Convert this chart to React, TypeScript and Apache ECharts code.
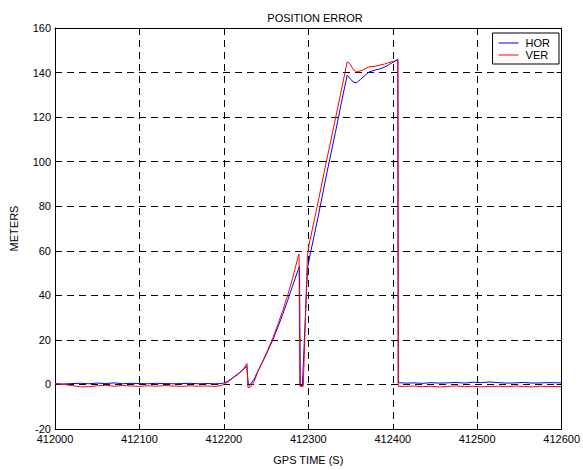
import React, { useEffect, useRef } from "react";
import * as echarts from "echarts";

const xTicks = [412000, 412100, 412200, 412300, 412400, 412500, 412600];
const yTicks = [-20, 0, 20, 40, 60, 80, 100, 120, 140, 160];

const horTime = [
  412000, 412010, 412020, 412030, 412040, 412050, 412060, 412070, 412080, 412090,
  412100, 412110, 412120, 412130, 412140, 412150, 412160, 412170, 412180, 412190, 412198,
  412205, 412212, 412218, 412224, 412227, 412229, 412231, 412236, 412240, 412246, 412252,
  412258, 412264, 412270, 412276, 412282, 412288, 412289.5, 412290.5, 412293, 412299,
  412302, 412312, 412322, 412332, 412340, 412346, 412350, 412354, 412357, 412362, 412368,
  412372, 412380, 412386, 412392, 412396, 412402, 412406, 412406.5,
  412415, 412425, 412435, 412445, 412455, 412465, 412475, 412485, 412495, 412505,
  412515, 412525, 412535, 412545, 412555, 412565, 412575, 412585, 412600,
];
const horVal = [
  0.3, 0.2, 0.4, 0.5, 0.3, 0.6, 0.4, 0.7, 0.3, 0.5,
  0.4, 0.3, 0.5, 0.4, 0.3, 0.4, 0.5, 0.3, 0.4, 0.3, 0.4,
  1.5, 3.4, 5.2, 7.0, 8.3, -0.3, -0.2, 2.5, 5.8, 10.2, 15.0,
  20.0, 25.8, 31.8, 38.2, 45.0, 51.5, 53.0, -0.5, -0.5, 52,
  58, 76, 95, 113, 128, 138.8, 137.0, 135.6, 135.4, 137.0, 139.0,
  140.3, 141.2, 141.8, 142.8, 143.7, 145.0, 146.0, 0.8,
  0.6, 0.7, 0.5, 0.8, 0.6, 0.7, 0.9, 0.6, 1.0, 0.8,
  1.1, 0.8, 0.6, 0.7, 0.9, 0.6, 0.7, 0.8, 0.7,
];

const verTime = [
  412000, 412010, 412020, 412030, 412040, 412050, 412060, 412070, 412080, 412090,
  412100, 412110, 412120, 412130, 412140, 412150, 412160, 412170, 412180, 412190, 412198,
  412205, 412210, 412216, 412222, 412227.4, 412228.5, 412232, 412236, 412240, 412246, 412252,
  412258, 412264, 412270, 412276, 412282, 412288, 412289, 412290, 412294, 412299,
  412301, 412310, 412320, 412330, 412338, 412346, 412349, 412353, 412357, 412364, 412371,
  412378, 412384, 412390, 412394, 412400, 412406, 412406.5,
  412415, 412425, 412435, 412445, 412455, 412465, 412475, 412485, 412495, 412505,
  412515, 412525, 412535, 412545, 412555, 412565, 412575, 412585, 412600,
];
const verVal = [
  0.3, 0.0, -0.5, -1.1, -1.0, -0.6, -0.4, -0.8, -0.5, -0.7,
  -0.9, -0.6, -0.8, -0.5, -0.7, -0.9, -0.6, -0.8, -0.7, -0.9, -0.4,
  1.2, 2.7, 4.3, 6.3, 9.4, -1.4, -1.0, 1.5, 5.5, 10.5, 15.5,
  20.8, 27.0, 33.5, 40.6, 48.5, 57.5, 58.5, -0.8, -0.8, 58,
  63, 79, 97.5, 115.5, 130, 144.8, 144.0, 141.5, 140.3, 141.0, 142.5,
  142.8, 143.3, 143.8, 144.3, 145.0, 145.5, -0.8,
  -0.9, -0.7, -1.0, -0.8, -1.1, -0.9, -0.7, -1.0, -0.8, -1.1,
  -0.9, -0.8, -1.0, -0.7, -0.9, -1.1, -0.8, -0.9, -1.0,
];

const seriesNames = ["HOR", "VER"];
const seriesColors = ["#0000ff", "#ff0000"];

const FONT = "Liberation Sans, Arial, Helvetica, sans-serif";

export default function App() {
  const ref = useRef<HTMLDivElement>(null);
  useEffect(() => {
    if (!ref.current) return;
    const chart = echarts.init(ref.current, undefined, { renderer: "svg" });
    const horData = horTime.map((t, i) => [t, horVal[i]]);
    const verData = verTime.map((t, i) => [t, verVal[i]]);
    const axisLine = { show: true, onZero: false, lineStyle: { color: "#000", width: 1 } };
    const dashed = { show: true, lineStyle: { color: "#000", width: 1, type: [7, 5] as any } };
    chart.setOption({
      animation: false,
      backgroundColor: "#fff",
      textStyle: { fontFamily: FONT },
      title: {
        text: "POSITION ERROR",
        left: 310,
        textAlign: "center",
        top: 7,
        textStyle: { fontSize: 11, fontWeight: "normal", color: "#000", fontFamily: FONT },
      },
      legend: {
        data: seriesNames.map((n) => ({ name: n, icon: "rect" })),
        orient: "vertical",
        right: 24,
        top: 33,
        itemWidth: 20,
        itemHeight: 1,
        itemGap: 0,
        padding: [4, 9, 3, 6],
        borderColor: "#000",
        borderWidth: 1,
        backgroundColor: "#fff",
        borderRadius: 0,
        textStyle: { fontSize: 11, lineHeight: 12, color: "#000", fontFamily: FONT, padding: [0, 0, 0, 2] },
      },
      grid: { left: 55, right: 19, top: 28, bottom: 39, show: false },
      xAxis: [
        {
          type: "value",
          min: xTicks[0],
          max: xTicks[xTicks.length - 1],
          interval: 100,
          name: "GPS TIME (S)",
          nameLocation: "middle",
          nameGap: 25,
          nameTextStyle: { fontSize: 11, color: "#000", fontFamily: FONT },
          axisLine,
          axisTick: { show: true, inside: true, length: 5, lineStyle: { color: "#000" } },
          axisLabel: { fontSize: 11, color: "#000", margin: 4, formatter: (v: number) => String(v), fontFamily: FONT },
          splitLine: dashed,
        },
        {
          type: "value",
          position: "top",
          min: xTicks[0],
          max: xTicks[xTicks.length - 1],
          interval: 100,
          axisLine,
          axisTick: { show: true, inside: true, length: 5, lineStyle: { color: "#000" } },
          axisLabel: { show: false },
          splitLine: { show: false },
        },
      ],
      yAxis: [
        {
          type: "value",
          min: yTicks[0],
          max: yTicks[yTicks.length - 1],
          interval: 20,
          name: "METERS",
          nameLocation: "middle",
          nameGap: 36,
          nameTextStyle: { fontSize: 11, color: "#000", fontFamily: FONT },
          axisLine,
          axisTick: { show: true, inside: true, length: 5, lineStyle: { color: "#000" } },
          axisLabel: { fontSize: 11, color: "#000", margin: 4, fontFamily: FONT },
          splitLine: dashed,
        },
        {
          type: "value",
          position: "right",
          min: yTicks[0],
          max: yTicks[yTicks.length - 1],
          interval: 20,
          axisLine,
          axisTick: { show: true, inside: true, length: 5, lineStyle: { color: "#000" } },
          axisLabel: { show: false },
          splitLine: { show: false },
        },
      ],
      series: [
        {
          name: seriesNames[0],
          type: "line",
          data: horData,
          symbol: "none",
          color: seriesColors[0],
          lineStyle: { width: 1, color: seriesColors[0] },
          xAxisIndex: 0,
          yAxisIndex: 0,
        },
        {
          name: seriesNames[1],
          type: "line",
          data: verData,
          symbol: "none",
          color: seriesColors[1],
          lineStyle: { width: 1, color: seriesColors[1] },
          xAxisIndex: 0,
          yAxisIndex: 0,
        },
      ],
    });
    return () => chart.dispose();
  }, []);
  return <div ref={ref} style={{ width: 583, height: 470, position: "absolute", left: 0, top: 0 }} />;
}
